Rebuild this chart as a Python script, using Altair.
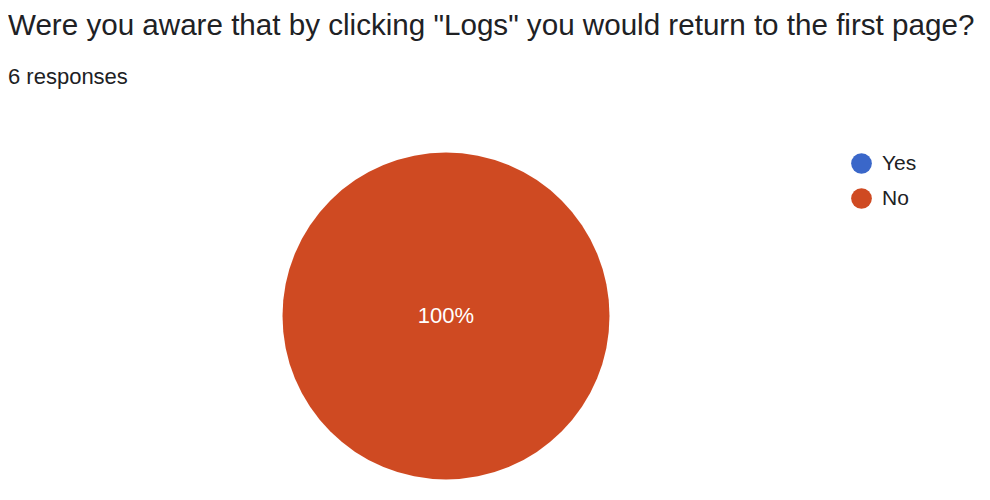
import altair as alt
import pandas as pd

categories = ["Yes", "No"]
counts = [0, 6]
colors = ["#3a67c9", "#cf4a22"]
title_text = 'Were you aware that by clicking "Logs" you would return to the first page?'
subtitle_text = "6 responses"

total = sum(counts)
df = pd.DataFrame({
    "answer": categories,
    "count": counts,
    "order": list(range(len(categories))),
})
df["pct"] = [f"{round(c / total * 100)}%" if c > 0 else "" for c in counts]

W, H = 974, 484
cx, cy, R = 438, 308, 163.5

base = alt.Chart(df).encode(
    theta=alt.Theta("count:Q", stack=True),
    order=alt.Order("order:Q"),
)

pie = base.mark_arc(outerRadius=R, strokeWidth=0).encode(
    color=alt.Color(
        "answer:N",
        scale=alt.Scale(domain=categories, range=colors),
        sort=categories,
        legend=alt.Legend(
            title=None,
            orient="none",
            legendX=843,
            legendY=145,
            symbolType="circle",
            symbolSize=430,
            symbolStrokeWidth=0,
            labelFont="Liberation Sans",
            labelFontSize=21,
            labelColor="#202124",
            labelOffset=10,
            rowPadding=13,
        ),
    ),
    x=alt.value(cx),
    y=alt.value(cy),
)

labels = alt.Chart(df).transform_filter("datum.count > 0").mark_text(
    font="Liberation Sans", fontSize=22, color="white"
).encode(
    text="pct:N",
    x=alt.value(cx),
    y=alt.value(cy),
)

title = alt.Chart(df).transform_filter("datum.order == 0").mark_text(
    align="left", baseline="alphabetic", font="Liberation Sans", fontSize=29.6, color="#202124"
).encode(text=alt.value(title_text), x=alt.value(0), y=alt.value(27))

sub = alt.Chart(df).transform_filter("datum.order == 0").mark_text(
    align="left", baseline="alphabetic", font="Liberation Sans", fontSize=22, color="#202124"
).encode(text=alt.value(subtitle_text), x=alt.value(0), y=alt.value(76))

chart = alt.layer(pie, labels, title, sub).properties(
    width=W, height=H, autosize=alt.AutoSizeParams(type="none"), padding=0
).configure_view(stroke=None)

chart.save("out.html", embed_options={"renderer": "svg", "actions": False})
